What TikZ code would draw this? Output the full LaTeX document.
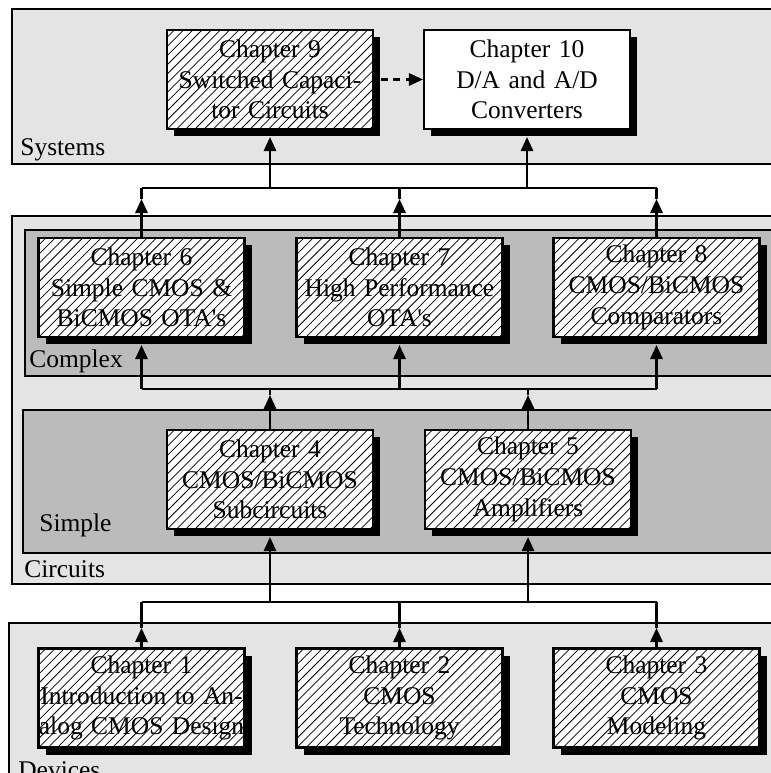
\documentclass[tikz,border=0pt]{standalone}
\usepackage{fontspec}
\setmainfont{Liberation Serif}
\usetikzlibrary{arrows.meta}

\definecolor{paneLight}{gray}{0.894}
\definecolor{paneDark}{gray}{0.733}

\tikzset{
	panel/.style={draw=black,line width=1.2pt},
	paneltext/.style={anchor=base west,inner sep=0pt,font=\fontsize{14.5}{17.5}\selectfont},
	chapter/.style={draw=black,fill=white,line width=1.2pt,minimum width=4.12cm,minimum height=1.98cm,
		text width=4.3cm,inner xsep=-0.09cm,align=center,font=\fontsize{14.5}{17.5}\selectfont},
	hatched/.style={chapter,path picture={
		\foreach \k in {-110,-100.8,...,210}
			\draw[line width=0.45pt] ([xshift=\k*0.02cm]path picture bounding box.south west) -- ++(2.3cm,2.3cm);}},
	plain/.style={chapter},
	wire/.style={line width=1.3pt},
	arrowwire/.style={wire,-{Triangle[length=8pt,width=7pt]}}
}

\begin{document}
\begin{tikzpicture}[x=0.02cm,y=-0.02cm]
	\useasboundingbox (0,0) rectangle (770,773);

	% panels (cut by the page edge)
	\draw[panel,fill=paneLight] (12,9) rectangle (790,164);
	\draw[panel,fill=paneLight] (12,216) rectangle (790,584);
	\draw[panel,fill=paneDark] (25,230) rectangle (790,376);
	\draw[panel,fill=paneDark] (23,410) rectangle (790,553);
	\draw[panel,fill=paneLight] (9,623) rectangle (790,800);

	\node[paneltext] (systems) at (20,156) {Systems};
	\node[paneltext] (complex) at (29,367) {Complex};
	\node[paneltext] (simple) at (39,531) {Simple};
	\node[paneltext] (circuits) at (24,577) {Circuits};
	\node[paneltext] (devices) at (18,778) {Devices};

	% shadows of the chapter boxes
	\foreach \x/\y in {270/79.5,527/79.5,141.5/287.5,399.5/287.5,656.5/287.5,270/479.5,528/479.5,141.5/698,399.5/698,656.5/698}
		\fill (\x-96,\y-42.5) rectangle (\x+110,\y+56.5);

	% chapters
	\node[hatched] (ch9) at (270,79.5) {Chapter 9\\Switched Capaci-\\tor Circuits};
	\node[plain] (ch10) at (527,79.5) {Chapter 10\\D/A and A/D\\Converters};
	\node[hatched] (ch6) at (141.5,287.5) {Chapter 6\\Simple CMOS \&\\BiCMOS OTA\textquotesingle s};
	\node[hatched] (ch7) at (399.5,287.5) {Chapter 7\\High Performance\\OTA\textquotesingle s};
	\node[hatched] (ch8) at (656.5,287.5) {Chapter 8\\CMOS/BiCMOS\\Comparators};
	\node[hatched] (ch4) at (270,479.5) {Chapter 4\\CMOS/BiCMOS\\Subcircuits};
	\node[hatched] (ch5) at (528,479.5) {Chapter 5\\CMOS/BiCMOS\\Amplifiers};
	\node[hatched] (ch1) at (141.5,698) {Chapter 1\\Introduction to An-\\alog CMOS Design};
	\node[hatched] (ch2) at (399.5,698) {Chapter 2\\CMOS\\Technology};
	\node[hatched] (ch3) at (656.5,698) {Chapter 3\\CMOS\\Modeling};

	% buses
	\coordinate (topbus) at (0,188);
	\coordinate (toptip) at (0,199);
	\coordinate (midbus) at (0,389);
	\coordinate (midtip) at (0,395);
	\coordinate (lowbus) at (0,602);
	\coordinate (lowtip) at (0,628);

	% complex -> systems
	\draw[wire] (ch6.north |- topbus) -- (ch8.north |- topbus);
	\foreach \c in {ch6,ch7,ch8} {
		\draw[arrowwire] (\c.north) -- (\c.north |- toptip);
		\draw[wire] (\c.north |- toptip) -- (\c.north |- topbus);
	}
	\draw[arrowwire] (ch9.south |- topbus) -- ([yshift=-0.14cm]ch9.south);
	\draw[arrowwire] (ch10.south |- topbus) -- ([yshift=-0.14cm]ch10.south);
	\draw[arrowwire,dash pattern=on 4pt off 3pt] ([xshift=0.14cm]ch9.east) -- (ch10.west);

	% simple -> complex
	\draw[wire] (ch6.south |- midbus) -- (ch8.south |- midbus);
	\foreach \c in {ch6,ch7,ch8}
		\draw[arrowwire] (\c.south |- midbus) -- ([yshift=-0.14cm]\c.south);
	\foreach \c in {ch4,ch5} {
		\draw[arrowwire] (\c.north) -- (\c.north |- midtip);
		\draw[wire] (\c.north |- midtip) -- (\c.north |- midbus);
	}

	% devices -> simple
	\draw[wire] (ch1.north |- lowbus) -- (ch3.north |- lowbus);
	\foreach \c in {ch4,ch5}
		\draw[arrowwire] (\c.south |- lowbus) -- ([yshift=-0.14cm]\c.south);
	\foreach \c in {ch1,ch2,ch3} {
		\draw[arrowwire] (\c.north) -- (\c.north |- lowtip);
		\draw[wire] (\c.north |- lowtip) -- (\c.north |- lowbus);
	}
\end{tikzpicture}
\end{document}
